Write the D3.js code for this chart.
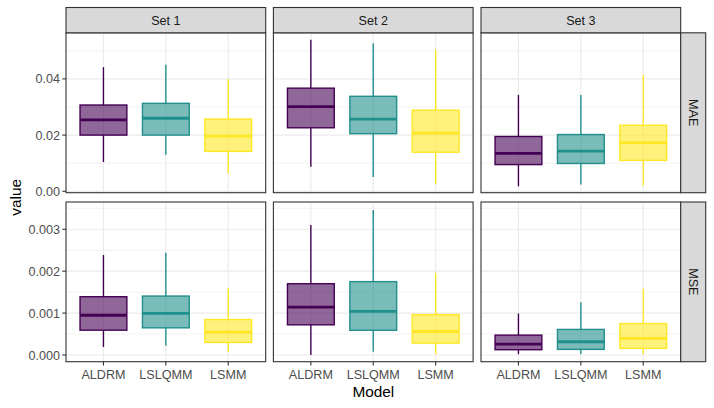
<!DOCTYPE html>
<html>
<head>
<meta charset="utf-8">
<script src="https://cdn.jsdelivr.net/npm/d3@7"></script>
<style>
  html, body { margin: 0; padding: 0; background: #fff; }
  svg { display: block; font-family: "Liberation Sans", Arial, Helvetica, sans-serif; }
</style>
</head>
<body>
<svg id="chart" width="714" height="408"></svg>
<script>
// ---- data ----
const sets = ["Set 1", "Set 2", "Set 3"];
const metrics = ["MAE", "MSE"];
const models = ["ALDRM", "LSLQMM", "LSMM"];
const colors = ["#440154", "#21908C", "#FDE725"];

// each row: [lower whisker, Q1, median, Q3, upper whisker] for ALDRM, LSLQMM, LSMM
const maeSet1 = [[0.0104, 0.0200, 0.0254, 0.0307, 0.0442],
                 [0.0130, 0.0200, 0.0260, 0.0313, 0.0450],
                 [0.0063, 0.0142, 0.0196, 0.0257, 0.0400]];
const maeSet2 = [[0.0087, 0.0226, 0.0301, 0.0367, 0.0539],
                 [0.0051, 0.0205, 0.0257, 0.0338, 0.0527],
                 [0.0025, 0.0139, 0.0207, 0.0289, 0.0504]];
const maeSet3 = [[0.0018, 0.0095, 0.0135, 0.0195, 0.0343],
                 [0.0024, 0.0099, 0.0143, 0.0202, 0.0343],
                 [0.0021, 0.0110, 0.0173, 0.0235, 0.0414]];
const mseSet1 = [[0.00019, 0.000592, 0.000948, 0.00139, 0.002386],
                 [0.00022, 0.000648, 0.000995, 0.001406, 0.00244],
                 [0.00008, 0.00030, 0.000545, 0.000845, 0.00159]];
const mseSet2 = [[0.00000, 0.00072, 0.00114, 0.00170, 0.00310],
                 [0.00008, 0.00059, 0.00104, 0.00175, 0.00346],
                 [0.00002, 0.000284, 0.00056, 0.000964, 0.00196]];
const mseSet3 = [[0.00002, 0.000126, 0.00026, 0.000474, 0.00099],
                 [0.00002, 0.000134, 0.000316, 0.00061, 0.00126],
                 [0.00002, 0.000158, 0.000395, 0.00075, 0.00158]];

const maeTicks = [0, 0.02, 0.04];
const maeTickLabels = ["0.00", "0.02", "0.04"];
const maeMinor = [0.01, 0.03, 0.05];
const mseTicks = [0, 0.001, 0.002, 0.003];
const mseTickLabels = ["0.000", "0.001", "0.002", "0.003"];
const mseMinor = [0.0005, 0.0015, 0.0025, 0.0035];
const maeDomain = [-0.0005, 0.0564];
const mseDomain = [-0.00016, 0.00365];

// ---- layout ----
const svg = d3.select("#chart");
const panelLeft = [66, 273.4, 481];
const panelW = 199.7;
const rowTop = [32.8, 202];
const panelH = [159.9, 159.7];
const stripTop = 7.5;
const stripRightW = 25;
const smallFont = 12.6;
const titleFont = 15.4;

const rows = [
  { metric: "MAE", data: [maeSet1, maeSet2, maeSet3], ticks: maeTicks, labels: maeTickLabels, minor: maeMinor, domain: maeDomain },
  { metric: "MSE", data: [mseSet1, mseSet2, mseSet3], ticks: mseTicks, labels: mseTickLabels, minor: mseMinor, domain: mseDomain }
];

// emulate ggplot discrete expansion (0.6 units each side)
const xPos = d3.scalePoint().domain(models).range([0, panelW]).padding(0.6);
const unit = panelW / 3.2;
const boxW = unit * 0.75;

const textCol = "#4D4D4D";
const frameCol = "#333333";

rows.forEach((row, ri) => {
  const y = d3.scaleLinear().domain(row.domain).range([rowTop[ri] + panelH[ri], rowTop[ri]]);
  sets.forEach((set, si) => {
    const g = svg.append("g").attr("transform", `translate(${panelLeft[si]},0)`);
    g.append("rect").attr("x", 0).attr("y", rowTop[ri]).attr("width", panelW).attr("height", panelH[ri]).attr("fill", "#fff");
    g.selectAll(".minor").data(row.minor).enter().append("line")
      .attr("x1", 0).attr("x2", panelW).attr("y1", d => y(d)).attr("y2", d => y(d))
      .attr("stroke", "#EBEBEB").attr("stroke-width", 0.6);
    g.selectAll(".major").data(row.ticks).enter().append("line")
      .attr("x1", 0).attr("x2", panelW).attr("y1", d => y(d)).attr("y2", d => y(d))
      .attr("stroke", "#EBEBEB").attr("stroke-width", 1.2);
    g.selectAll(".vmajor").data(models).enter().append("line")
      .attr("x1", d => xPos(d)).attr("x2", d => xPos(d)).attr("y1", rowTop[ri]).attr("y2", rowTop[ri] + panelH[ri])
      .attr("stroke", "#EBEBEB").attr("stroke-width", 1.2);

    const stats = row.data[si];
    models.forEach((m, mi) => {
      const s = stats[mi];
      const cx = xPos(m);
      const col = colors[mi];
      const bg = g.append("g");
      bg.append("line").attr("x1", cx).attr("x2", cx).attr("y1", y(s[3])).attr("y2", y(s[4]))
        .attr("stroke", col).attr("stroke-width", 1.4);
      bg.append("line").attr("x1", cx).attr("x2", cx).attr("y1", y(s[1])).attr("y2", y(s[0]))
        .attr("stroke", col).attr("stroke-width", 1.4);
      bg.append("rect").attr("x", cx - boxW / 2).attr("width", boxW)
        .attr("y", y(s[3])).attr("height", y(s[1]) - y(s[3]))
        .attr("fill", col).attr("fill-opacity", 0.6)
        .attr("stroke", col).attr("stroke-width", 1.4);
      bg.append("line").attr("x1", cx - boxW / 2).attr("x2", cx + boxW / 2).attr("y1", y(s[2])).attr("y2", y(s[2]))
        .attr("stroke", col).attr("stroke-width", 2.8);
    });

    g.append("rect").attr("x", 0).attr("y", rowTop[ri]).attr("width", panelW).attr("height", panelH[ri])
      .attr("fill", "none").attr("stroke", frameCol).attr("stroke-width", 1.1);

    if (si === 0) {
      const ax = g.append("g");
      row.ticks.forEach((t, ti) => {
        ax.append("line").attr("x1", -3.7).attr("x2", 0).attr("y1", y(t)).attr("y2", y(t))
          .attr("stroke", frameCol).attr("stroke-width", 1.1);
        ax.append("text").attr("x", -6).attr("y", y(t)).attr("dy", "0.36em")
          .attr("text-anchor", "end").attr("font-size", smallFont).attr("fill", textCol).text(row.labels[ti]);
      });
    }
    if (ri === rows.length - 1) {
      const bottom = rowTop[ri] + panelH[ri];
      models.forEach(m => {
        g.append("line").attr("x1", xPos(m)).attr("x2", xPos(m)).attr("y1", bottom).attr("y2", bottom + 3.7)
          .attr("stroke", frameCol).attr("stroke-width", 1.1);
        g.append("text").attr("x", xPos(m)).attr("y", bottom + 16.8)
          .attr("text-anchor", "middle").attr("font-size", smallFont).attr("fill", textCol).text(m);
      });
    }
    if (ri === 0) {
      g.append("rect").attr("x", 0).attr("y", stripTop).attr("width", panelW).attr("height", rowTop[0] - stripTop)
        .attr("fill", "#D9D9D9").attr("stroke", frameCol).attr("stroke-width", 1.1);
      g.append("text").attr("x", panelW / 2).attr("y", (stripTop + rowTop[0]) / 2).attr("dy", "0.36em")
        .attr("text-anchor", "middle").attr("font-size", smallFont).attr("fill", "#1A1A1A").text(set);
    }
    if (si === sets.length - 1) {
      const sx = panelW;
      g.append("rect").attr("x", sx).attr("y", rowTop[ri]).attr("width", stripRightW).attr("height", panelH[ri])
        .attr("fill", "#D9D9D9").attr("stroke", frameCol).attr("stroke-width", 1.1);
      const cy = rowTop[ri] + panelH[ri] / 2;
      g.append("text").attr("transform", `translate(${sx + stripRightW / 2},${cy}) rotate(90)`)
        .attr("dy", "0.36em").attr("text-anchor", "middle").attr("font-size", smallFont).attr("fill", "#1A1A1A")
        .text(row.metric);
    }
  });
});

svg.append("text").attr("x", panelLeft[0] + (panelLeft[2] + panelW - panelLeft[0]) / 2).attr("y", 396.5)
  .attr("text-anchor", "middle").attr("font-size", titleFont).attr("fill", "#000").text("Model");
svg.append("text").attr("transform", `translate(15,${(rowTop[0] + rowTop[1] + panelH[1]) / 2}) rotate(-90)`)
  .attr("dy", "0.36em").attr("text-anchor", "middle").attr("font-size", titleFont).attr("fill", "#000").text("value");
</script>
</body>
</html>
